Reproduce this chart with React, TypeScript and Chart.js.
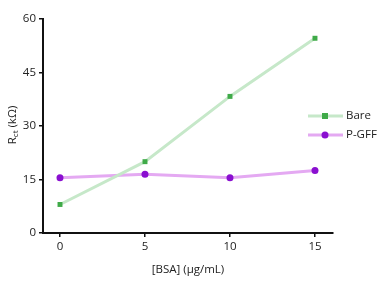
import React, { useEffect, useRef } from "react";
import { Chart, registerables } from "chart.js";

Chart.register(...registerables);

const concentrations = [0, 5, 10, 15];
const bareValues = [8, 20, 38.3, 54.6];
const pgffValues = [15.5, 16.5, 15.5, 17.5];
const seriesNames = ["Bare", "P-GFF"];
const xTicks = [0, 5, 10, 15];
const yTicks = [0, 15, 30, 45, 60];
const xTitle = "[BSA] (μg/mL)";
const yTitleMain = "R";
const yTitleSub = "ct";
const yTitleRest = " (kΩ)";

const FONT = "'Open Sans', 'DejaVu Sans', sans-serif";

const customPlugin = {
  id: "custom",
  afterDraw(chart: any) {
    const ctx = chart.ctx;
    const area = chart.chartArea;
    ctx.save();
    // x title
    ctx.fillStyle = "#222";
    ctx.font = `11.5px ${FONT}`;
    ctx.textAlign = "center";
    ctx.textBaseline = "middle";
    ctx.fillText(xTitle, (area.left + area.right) / 2, 270);
    // y title
    ctx.translate(13, 125);
    ctx.rotate(-Math.PI / 2);
    ctx.font = `11.5px ${FONT}`;
    const w1 = ctx.measureText(yTitleMain).width;
    ctx.font = `8px ${FONT}`;
    const w2 = ctx.measureText(yTitleSub).width;
    ctx.font = `11.5px ${FONT}`;
    const w3 = ctx.measureText(yTitleRest).width;
    let x0 = -(w1 + w2 + w3) / 2;
    ctx.textAlign = "left";
    ctx.textBaseline = "middle";
    ctx.fillText(yTitleMain, x0, 0);
    ctx.font = `8px ${FONT}`;
    ctx.fillText(yTitleSub, x0 + w1, 3);
    ctx.font = `11.5px ${FONT}`;
    ctx.fillText(yTitleRest, x0 + w1 + w2, 0);
    ctx.restore();

    // legend
    ctx.save();
    chart.data.datasets.forEach((ds: any, i: number) => {
      const y = 116 + i * 19;
      ctx.strokeStyle = ds.borderColor;
      ctx.lineWidth = 3;
      ctx.beginPath();
      ctx.moveTo(308, y);
      ctx.lineTo(343, y);
      ctx.stroke();
      ctx.fillStyle = ds.pointBackgroundColor;
      if (ds.pointStyle === "rect") {
        ctx.fillRect(322, y - 3, 6, 6);
      } else {
        ctx.beginPath();
        ctx.arc(325, y, 3.5, 0, Math.PI * 2);
        ctx.fill();
      }
      ctx.fillStyle = "#222";
      ctx.font = `11.5px ${FONT}`;
      ctx.textAlign = "left";
      ctx.textBaseline = "middle";
      ctx.fillText(ds.label, 346, y);
    });
    ctx.restore();
  },
};

export default function App() {
  const ref = useRef<HTMLCanvasElement>(null);
  useEffect(() => {
    document.body.style.margin = "0";
    const chart = new Chart(ref.current!, {
      type: "line",
      data: {
        datasets: [
          {
            label: seriesNames[0],
            data: concentrations.map((x, i) => ({ x, y: bareValues[i] })),
            borderColor: "#c6e8c9",
            borderWidth: 3,
            pointStyle: "rect",
            pointRadius: 3.5,
            pointBackgroundColor: "#3faa48",
            pointBorderColor: "#3faa48",
            pointBorderWidth: 0,
          },
          {
            label: seriesNames[1],
            data: concentrations.map((x, i) => ({ x, y: pgffValues[i] })),
            borderColor: "#e4a9f2",
            borderWidth: 3,
            pointStyle: "circle",
            pointRadius: 3.5,
            pointBackgroundColor: "#8a0fd0",
            pointBorderColor: "#8a0fd0",
            pointBorderWidth: 0,
          },
        ],
      },
      options: {
        animation: false,
        responsive: false,
        layout: { padding: { top: 19, right: 52, left: 0, bottom: 0 } },
        plugins: { legend: { display: false }, tooltip: { enabled: false } },
        scales: {
          x: {
            type: "linear",
            min: -1,
            max: 16.06,
            afterBuildTicks: (s: any) => {
              s.ticks = xTicks.map((v) => ({ value: v }));
            },
            afterFit: (s: any) => {
              s.height = 50;
            },
            grid: {
              drawOnChartArea: false,
              drawTicks: true,
              tickLength: 4,
              color: "#111",
              lineWidth: 1.5,
            },
            border: { display: true, color: "#111", width: 2 },
            ticks: {
              color: "#222",
              font: { family: FONT, size: 11.5 },
              padding: 3,
              maxRotation: 0,
            },
          },
          y: {
            type: "linear",
            min: 0,
            max: 60,
            afterBuildTicks: (s: any) => {
              s.ticks = yTicks.map((v) => ({ value: v }));
            },
            afterFit: (s: any) => {
              s.width = 43;
            },
            grid: {
              drawOnChartArea: false,
              drawTicks: true,
              tickLength: 4,
              color: "#111",
              lineWidth: 1.5,
            },
            border: { display: true, color: "#111", width: 2 },
            ticks: {
              color: "#222",
              font: { family: FONT, size: 11.5 },
              padding: 3,
            },
          },
        },
      },
      plugins: [customPlugin],
    } as any);
    return () => chart.destroy();
  }, []);
  return <canvas ref={ref} width={385} height={283} style={{ display: "block" }} />;
}
